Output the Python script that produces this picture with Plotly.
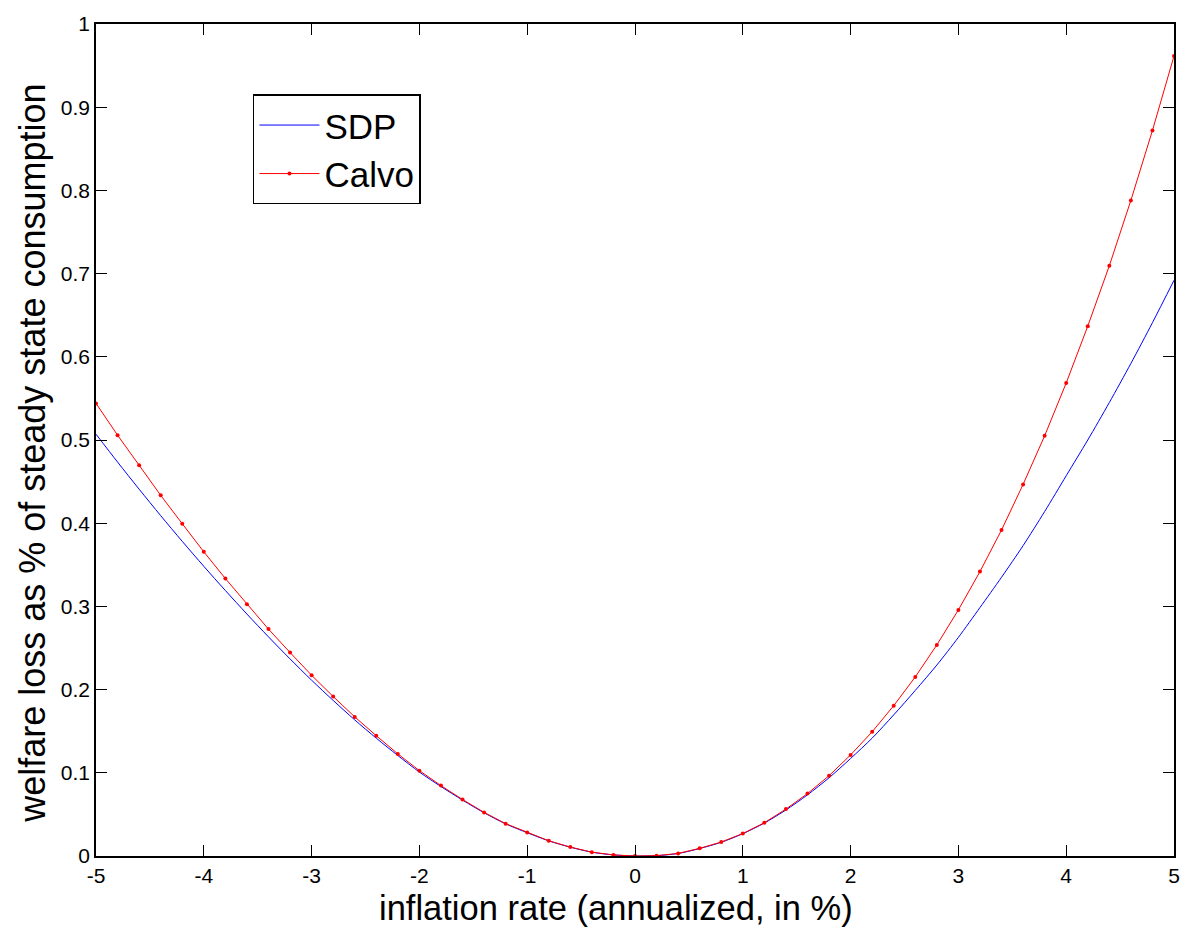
import plotly.graph_objects as go

x_vals = [-5.0, -4.8, -4.6, -4.4, -4.2, -4.0, -3.8, -3.6, -3.4, -3.2, -3.0,
          -2.8, -2.6, -2.4, -2.2, -2.0, -1.8, -1.6, -1.4, -1.2, -1.0,
          -0.8, -0.6, -0.4, -0.2, 0.0, 0.2, 0.4, 0.6, 0.8, 1.0,
          1.2, 1.4, 1.6, 1.8, 2.0, 2.2, 2.4, 2.6, 2.8, 3.0,
          3.2, 3.4, 3.6, 3.8, 4.0, 4.2, 4.4, 4.6, 4.8, 5.0]

sdp = [0.507, 0.4735, 0.4409, 0.4091, 0.3782, 0.3482, 0.3191, 0.2908, 0.2634, 0.2369, 0.2113,
       0.187, 0.1636, 0.1416, 0.1208, 0.1009, 0.0835, 0.0672, 0.0520, 0.0386, 0.0280,
       0.0182, 0.0106, 0.0046, 0.0013, 0.0, 0.0004, 0.0030, 0.0090, 0.0165, 0.0268,
       0.0396, 0.0553, 0.0735, 0.0940, 0.1172, 0.1417, 0.1696, 0.199, 0.2295, 0.2628,
       0.2986, 0.335, 0.373, 0.414, 0.457, 0.500, 0.545, 0.592, 0.641, 0.692]

calvo = [0.544, 0.5058, 0.4697, 0.4335, 0.3994, 0.3656, 0.3335, 0.3025, 0.2727, 0.2446, 0.2172,
         0.1917, 0.1672, 0.1446, 0.1227, 0.1026, 0.0846, 0.0679, 0.0524, 0.0389, 0.0282,
         0.0183, 0.0107, 0.0046, 0.0013, 0.0, 0.0004, 0.0031, 0.0092, 0.0168, 0.0270,
         0.0400, 0.0564, 0.0750, 0.0965, 0.1215, 0.1493, 0.1807, 0.2152, 0.2537, 0.2958,
         0.3418, 0.3918, 0.4466, 0.5050, 0.5685, 0.6368, 0.7094, 0.788, 0.872, 0.9615]

x_ticks = [-5, -4, -3, -2, -1, 0, 1, 2, 3, 4, 5]
y_ticks = [0, 0.1, 0.2, 0.3, 0.4, 0.5, 0.6, 0.7, 0.8, 0.9, 1]
y_tick_text = ["0", "0.1", "0.2", "0.3", "0.4", "0.5", "0.6", "0.7", "0.8", "0.9", "1"]

x_title = "inflation rate (annualized, in %)"
y_title = "welfare loss as % of steady state consumption"

FONT = "Liberation Sans, Arial, sans-serif"

fig = go.Figure()
fig.add_trace(go.Scatter(x=x_vals, y=sdp, mode="lines", name="SDP",
                         line=dict(color="#0000ff", width=1, shape="spline", smoothing=0.8)))
fig.add_trace(go.Scatter(x=x_vals, y=calvo, mode="lines+markers", name="Calvo",
                         line=dict(color="#ff0000", width=1),
                         marker=dict(color="#ff0000", size=4, symbol="circle")))

axis_common = dict(showline=True, linecolor="black", linewidth=1.5, mirror="ticks",
                   ticks="inside", ticklen=11, tickwidth=1, tickcolor="black",
                   showgrid=False, zeroline=False,
                   tickfont=dict(family=FONT, size=21, color="black"))

fig.update_xaxes(range=[-5, 5], tickvals=x_ticks, ticktext=[str(v) for v in x_ticks],
                 **axis_common)
fig.update_yaxes(range=[0, 1], tickvals=y_ticks, ticktext=y_tick_text,
                 **axis_common)

fig.add_annotation(text=x_title, xref="paper", yref="paper",
                   x=0.4828, y=-0.0375, xanchor="center", yanchor="top",
                   showarrow=False, font=dict(family=FONT, size=34.5, color="black"))
fig.add_annotation(text=y_title, xref="paper", yref="paper", textangle=-90,
                   x=-0.0585, y=0.4845, xanchor="center", yanchor="middle",
                   showarrow=False, font=dict(family=FONT, size=36, color="black"))

fig.update_layout(
    width=1193, height=932,
    margin=dict(l=96, r=19, t=16, b=76),
    paper_bgcolor="white", plot_bgcolor="white",
    font=dict(family=FONT, color="black"),
    legend=dict(x=0.1456, y=0.9155, xanchor="left", yanchor="top",
                bordercolor="black", borderwidth=1.5, bgcolor="white",
                font=dict(family=FONT, size=35, color="black"),
                itemwidth=60, tracegroupgap=0),
)

fig.write_html("out.html", config={"displayModeBar": False},
               post_script="document.body.style.margin='0';document.body.style.overflow='hidden';")
